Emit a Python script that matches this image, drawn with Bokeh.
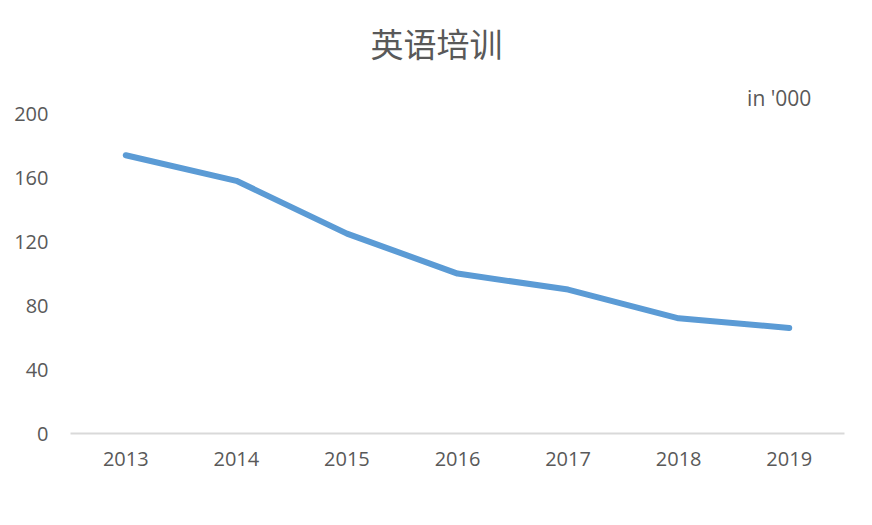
from bokeh.plotting import figure
from bokeh.models import Range1d, FixedTicker
from bokeh.core.properties import value
from bokeh.embed import file_html
from bokeh.resources import INLINE

years = ["2013", "2014", "2015", "2016", "2017", "2018", "2019"]
trainees = [174, 158, 125, 100, 90, 72, 66]
y_ticks = [0, 40, 80, 120, 160, 200]
title_text = "英语培训"
unit_text = "in '000"

GRAY = "#595959"
LABEL_FONT = "Open Sans"

p = figure(width=856, height=509, x_range=years, y_range=Range1d(0, 262),
           output_backend="svg", toolbar_location=None,
           min_border_left=70, min_border_right=12,
           min_border_top=14, min_border_bottom=76)
p.x_range.range_padding = 0
p.outline_line_color = None
p.grid.grid_line_color = None
p.background_fill_color = "white"
p.border_fill_color = "white"

p.line(x=years, y=trainees, line_color="#5B9BD5", line_width=6,
       line_join="round", line_cap="round")

# y axis
p.yaxis.ticker = FixedTicker(ticks=y_ticks)
p.yaxis.axis_line_color = None
p.yaxis.major_tick_line_color = None
p.yaxis.minor_tick_line_color = None
p.yaxis.major_label_standoff = 16
p.yaxis.major_label_text_font = LABEL_FONT
p.yaxis.major_label_text_font_size = "20px"
p.yaxis.major_label_text_color = GRAY

# x axis
p.xaxis.axis_line_color = "#d9d9d9"
p.xaxis.axis_line_width = 2
p.xaxis.major_tick_line_color = None
p.xaxis.minor_tick_line_color = None
p.xaxis.major_label_standoff = 12
p.xaxis.major_label_text_font = LABEL_FONT
p.xaxis.major_label_text_font_size = "20px"
p.xaxis.major_label_text_color = GRAY

# title (as text inside the extended frame)
p.text(x=[years[3]], y=[244], text=[title_text], x_offset=-21,
       text_font=value("Noto Sans CJK SC"), text_font_size="33px",
       text_color=GRAY, text_align="center", text_baseline="middle")

# unit note
p.text(x=[years[6]], y=[210], text=[unit_text], x_offset=-10,
       text_font=value(LABEL_FONT), text_font_size="21px",
       text_color=GRAY, text_align="center", text_baseline="middle")

open("out.html", "w").write(file_html(p, INLINE))
